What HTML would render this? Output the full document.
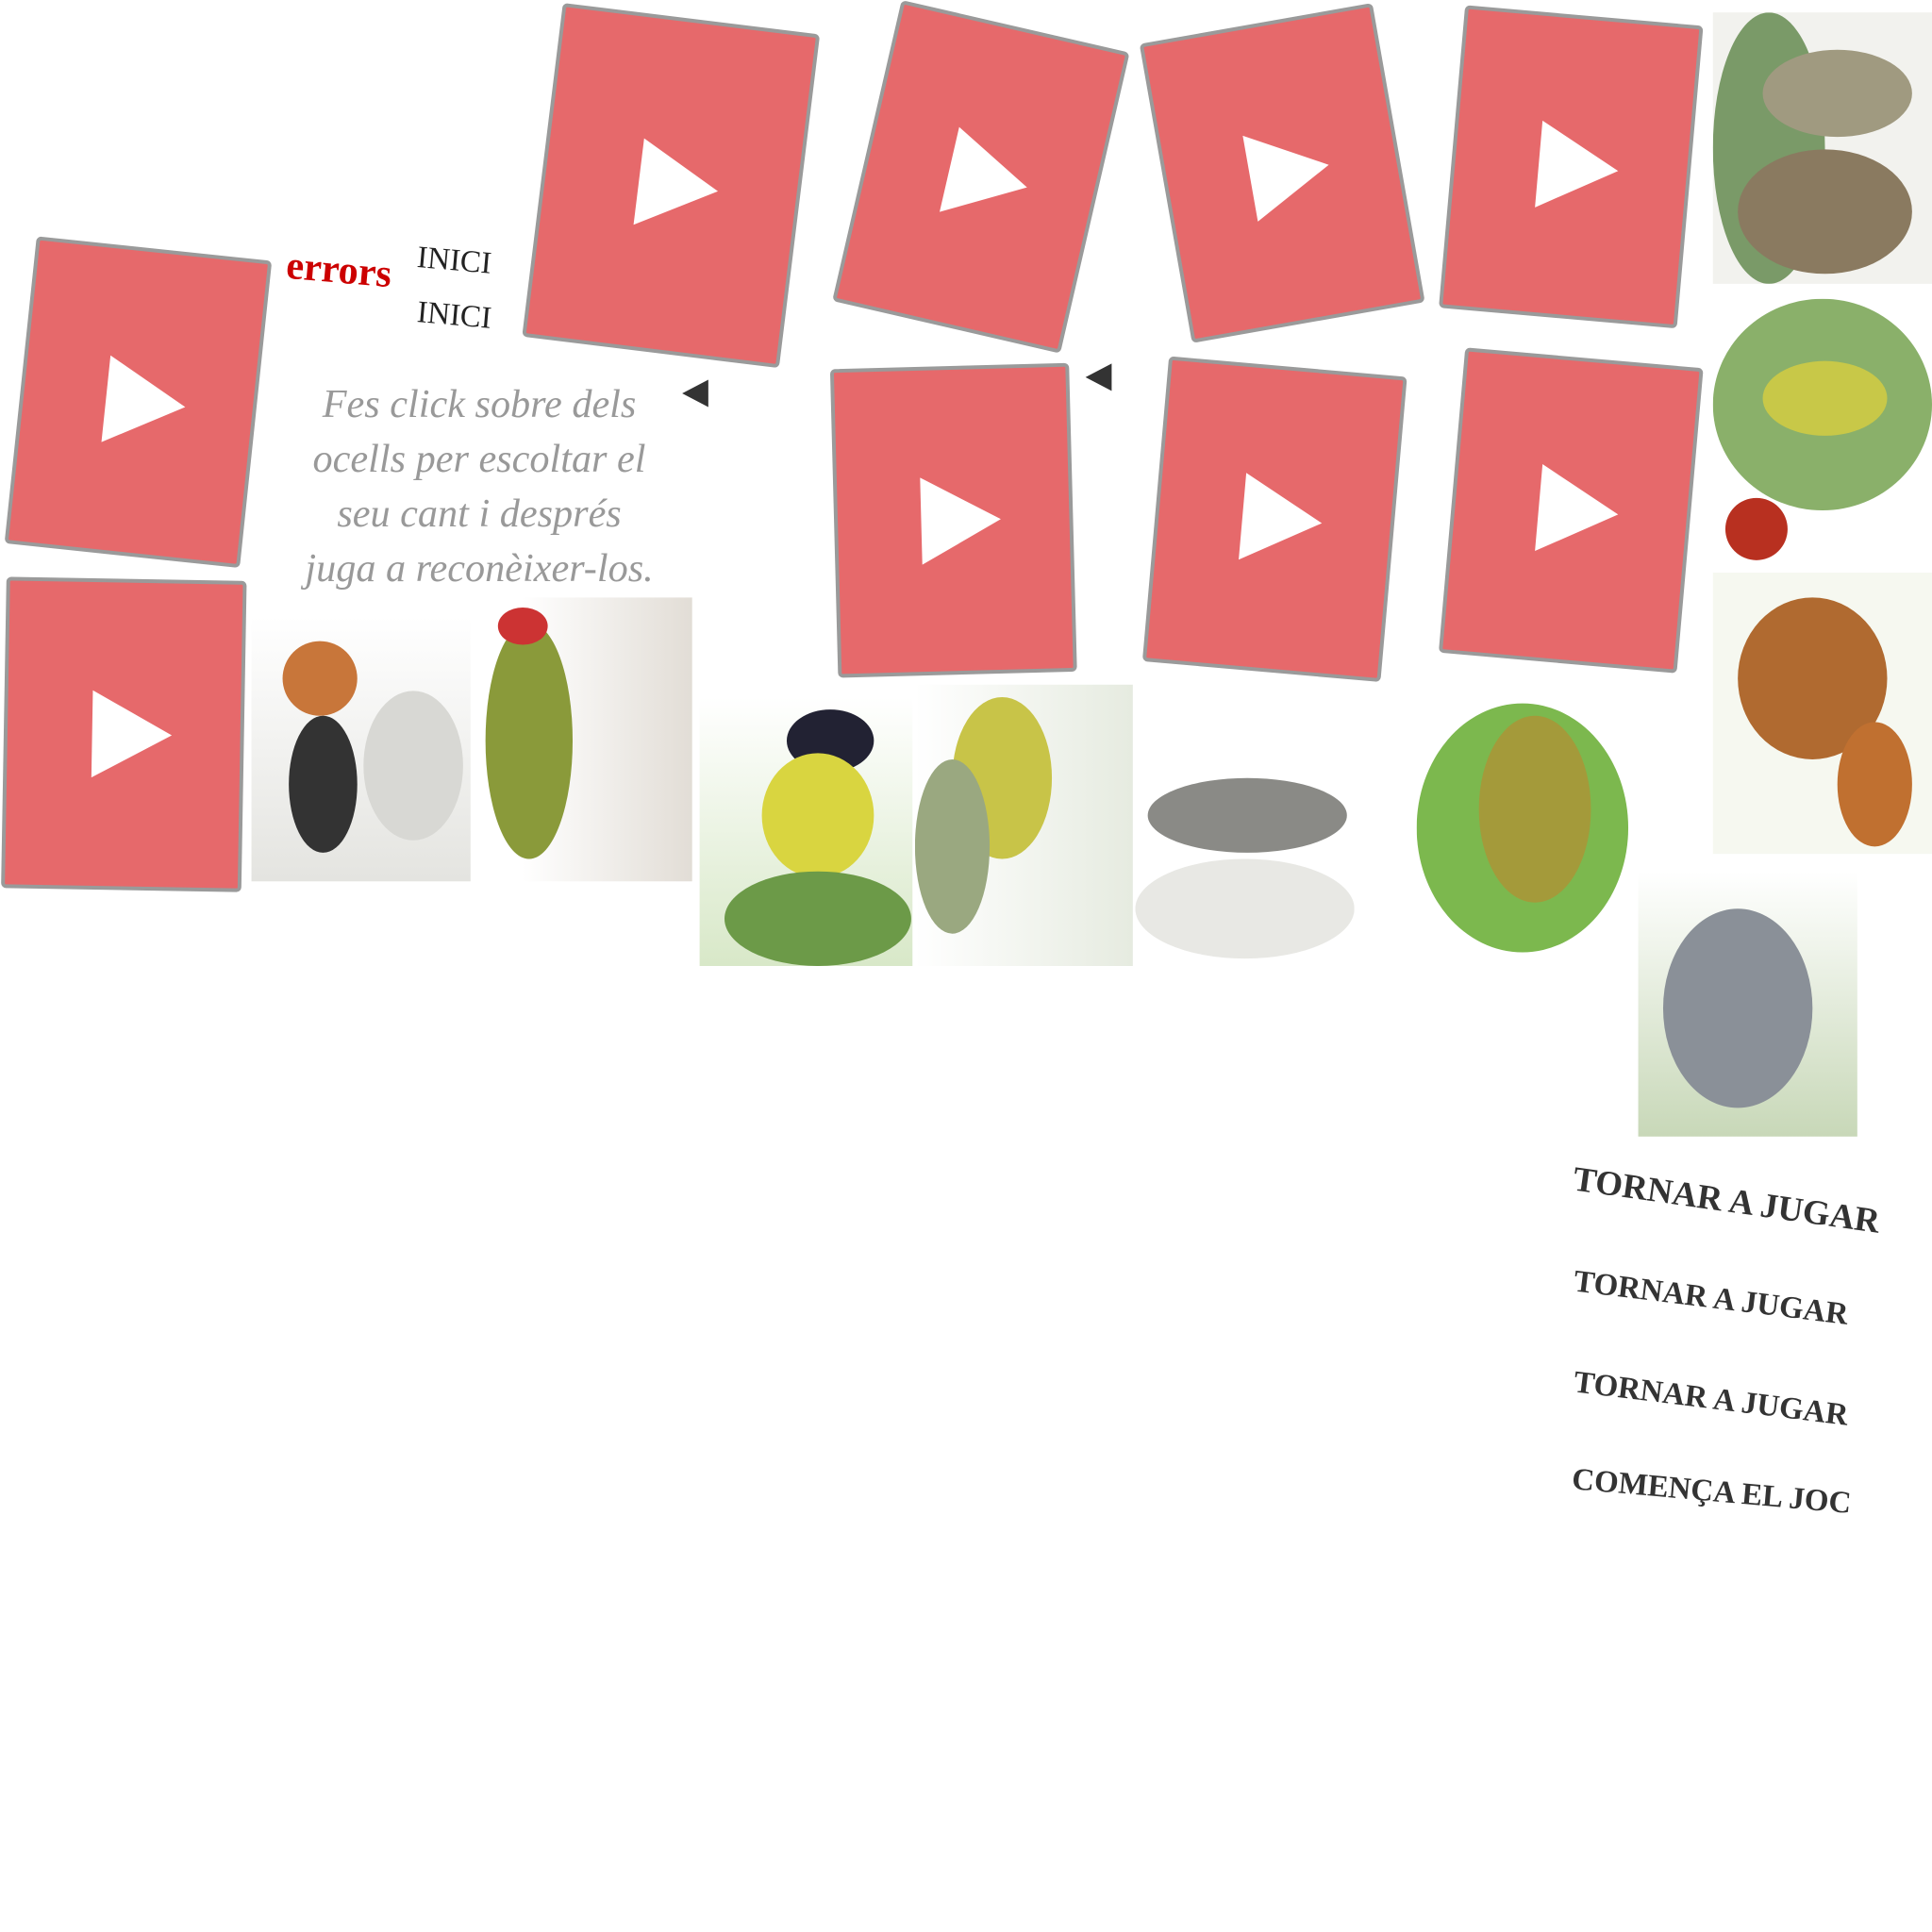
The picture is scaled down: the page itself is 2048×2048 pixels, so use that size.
<!DOCTYPE html>
<html><head><meta charset="utf-8"><style>
html,body{margin:0;padding:0;background:#fff;width:2048px;height:2048px;overflow:hidden}
#w{position:absolute;left:0;top:0;width:1552px;height:1552px;transform:scale(1.31959);transform-origin:0 0}
.c{position:absolute;background:#e6696b;border:3px solid #9a9a9a;border-radius:4px;box-sizing:border-box}
.c:after{content:"";position:absolute;left:50%;top:50%;margin-left:-26px;margin-top:-35px;border-left:64px solid #fff;border-top:35px solid transparent;border-bottom:35px solid transparent}
.b{position:absolute;overflow:hidden}
.b i{position:absolute;border-radius:50%}
.t{position:absolute;font-family:"Liberation Serif",serif;white-space:nowrap}
</style></head><body><div id="w">
<div class="c" style="left:16px;top:199px;width:190px;height:248px;transform:rotate(6deg)"></div>
<div class="c" style="left:3px;top:465px;width:193px;height:250px;transform:rotate(1deg)"></div>
<div class="c" style="left:435px;top:14px;width:208px;height:270px;transform:rotate(7deg)"></div>
<div class="c" style="left:694px;top:18px;width:188px;height:248px;transform:rotate(13deg)"></div>
<div class="c" style="left:935px;top:17px;width:190px;height:244px;transform:rotate(-10deg)"></div>
<div class="c" style="left:1166px;top:12px;width:192px;height:244px;transform:rotate(5deg)"></div>
<div class="c" style="left:670px;top:294px;width:192px;height:248px;transform:rotate(-1.5deg)"></div>
<div class="c" style="left:928px;top:294px;width:192px;height:246px;transform:rotate(5deg)"></div>
<div class="c" style="left:1166px;top:287px;width:192px;height:246px;transform:rotate(5deg)"></div>

<div class="t" style="left:230px;top:198px;font-size:32px;color:#c00;font-weight:bold;transform:rotate(5deg)">errors</div>
<div class="t" style="left:335px;top:196px;font-size:25px;color:#222;transform:rotate(5deg)">INICI</div>
<div class="t" style="left:335px;top:240px;font-size:25px;color:#222;transform:rotate(5deg)">INICI</div>
<div class="t" style="left:205px;top:302px;width:360px;text-align:center;font-size:32px;line-height:44px;color:#999;font-style:italic">Fes click sobre dels<br>ocells per escoltar el<br>seu cant i després<br>juga a reconèixer-los.</div>
<div style="position:absolute;left:548px;top:305px;border-right:21px solid #333;border-top:11px solid transparent;border-bottom:11px solid transparent"></div>
<div style="position:absolute;left:872px;top:292px;border-right:21px solid #333;border-top:11px solid transparent;border-bottom:11px solid transparent"></div>

<div class="b" style="left:202px;top:495px;width:176px;height:213px;background:linear-gradient(#fff,#e4e4e0)"><i style="left:25px;top:20px;width:60px;height:60px;background:#c8763a"></i><i style="left:30px;top:80px;width:55px;height:110px;background:#333"></i><i style="left:90px;top:60px;width:80px;height:120px;background:#d8d8d4"></i></div>
<div class="b" style="left:385px;top:480px;width:171px;height:228px;background:linear-gradient(90deg,#fff 20%,#e2ddd6)"><i style="left:5px;top:20px;width:70px;height:190px;background:#8a9a3a"></i><i style="left:15px;top:8px;width:40px;height:30px;background:#c33"></i></div>
<div class="b" style="left:562px;top:560px;width:171px;height:216px;background:linear-gradient(#fff,#d8e8c8)"><i style="left:70px;top:10px;width:70px;height:50px;background:#223"></i><i style="left:50px;top:45px;width:90px;height:100px;background:#d9d540"></i><i style="left:20px;top:140px;width:150px;height:76px;background:#6c9a48"></i></div>
<div class="b" style="left:735px;top:550px;width:175px;height:226px;background:linear-gradient(90deg,#fff,#e6ebe0)"><i style="left:30px;top:10px;width:80px;height:130px;background:#c8c448"></i><i style="left:0px;top:60px;width:60px;height:140px;background:#9aa880"></i></div>
<div class="b" style="left:912px;top:620px;width:176px;height:158px;background:#fff"><i style="left:10px;top:5px;width:160px;height:60px;background:#8a8a86"></i><i style="left:0;top:70px;width:176px;height:80px;background:#e8e8e4"></i></div>
<div class="b" style="left:1138px;top:555px;width:177px;height:220px;background:#fff"><i style="left:0;top:10px;width:170px;height:200px;background:#7cb84e"></i><i style="left:50px;top:20px;width:90px;height:150px;background:#a49a3a"></i></div>
<div class="b" style="left:1376px;top:10px;width:176px;height:218px;background:#f2f2ee"><i style="left:0;top:0;width:90px;height:218px;background:#7a9a68"></i><i style="left:40px;top:30px;width:120px;height:70px;background:#a09a80"></i><i style="left:20px;top:110px;width:140px;height:100px;background:#8a7a60"></i></div>
<div class="b" style="left:1376px;top:240px;width:176px;height:216px;background:#fff"><i style="left:0;top:0;width:176px;height:170px;background:#8ab06a"></i><i style="left:40px;top:50px;width:100px;height:60px;background:#c8c848"></i><i style="left:10px;top:160px;width:50px;height:50px;background:#b83020"></i></div>
<div class="b" style="left:1376px;top:460px;width:176px;height:226px;background:#f6f8f0"><i style="left:20px;top:20px;width:120px;height:130px;background:#b06a30"></i><i style="left:100px;top:120px;width:60px;height:100px;background:#c07030"></i></div>
<div class="b" style="left:1316px;top:700px;width:176px;height:213px;background:linear-gradient(#fff,#c8d8b8)"><i style="left:20px;top:30px;width:120px;height:160px;background:#8a9098"></i></div>

<div class="t" style="left:1266px;top:932px;font-size:28px;font-weight:bold;color:#333;transform:rotate(8deg);transform-origin:0 0">TORNAR A JUGAR</div>
<div class="t" style="left:1266px;top:1016px;font-size:25px;font-weight:bold;color:#333;transform:rotate(7deg);transform-origin:0 0">TORNAR A JUGAR</div>
<div class="t" style="left:1266px;top:1097px;font-size:25px;font-weight:bold;color:#333;transform:rotate(7deg);transform-origin:0 0">TORNAR A JUGAR</div>
<div class="t" style="left:1264px;top:1175px;font-size:25px;font-weight:bold;color:#333;transform:rotate(5deg);transform-origin:0 0">COMENÇA EL JOC</div>
</div></body></html>
